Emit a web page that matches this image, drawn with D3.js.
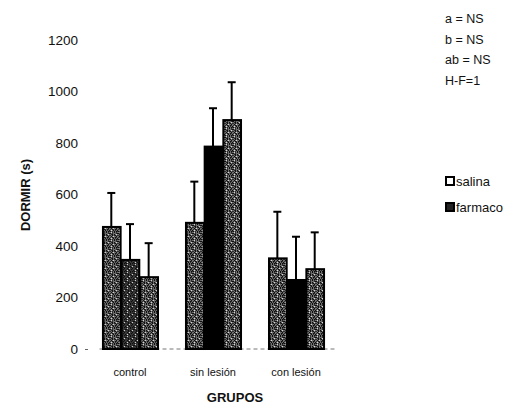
<!DOCTYPE html>
<html>
<head>
<meta charset="utf-8">
<script src="https://cdn.jsdelivr.net/npm/d3@7"></script>
<style>
  body { margin: 0; background: #fff; }
  svg text { font-family: "Liberation Sans", Arial, sans-serif; fill: #111; }
</style>
</head>
<body>
<div id="chart"></div>
<script>
//------------------------DATA------------------------//
const grupos = ["control", "sin lesión", "con lesión"];
const series = ["s1", "s2", "s3"];
const valS1 = [474, 490, 352];
const valS2 = [346, 786, 268];
const valS3 = [279, 889, 310];
const errS1 = [606, 650, 533];
const errS2 = [485, 935, 436];
const errS3 = [411, 1036, 453];
const yTicks = [0, 200, 400, 600, 800, 1000, 1200];
const notas = ["a = NS", "b = NS", "ab = NS", "H-F=1"];
const leyenda = ["salina", "farmaco"];

const valores = [valS1, valS2, valS3];
const errores = [errS1, errS2, errS3];

//------------------------SVG------------------------//
const width = 526, height = 407;
const svg = d3.select("#chart").append("svg")
  .attr("width", width)
  .attr("height", height);

// stipple texture, fixed tile
const tile = [
  "gwdgkgdg",
  "kgdgggdk",
  "gdkgkgwg",
  "dgkgdkgd",
  "gkgwggkg",
  "dgkdgkdg",
  "gwgkgdgk",
  "kgdgkgkd"
];
const tileCol = { g: "#5e5e5e", w: "#d8d8d8", d: "#2e2e2e", k: "#0c0c0c" };
function makePattern(id, base) {
  const p = svg.append("defs").append("pattern")
    .attr("id", id)
    .attr("width", 8).attr("height", 8)
    .attr("patternUnits", "userSpaceOnUse");
  p.append("rect").attr("width", 8).attr("height", 8).attr("fill", base);
  tile.forEach(function(row, j) {
    row.split("").forEach(function(c, i) {
      if (c === "g") return;
      p.append("rect").attr("x", i).attr("y", j).attr("width", 1).attr("height", 1)
        .attr("fill", tileCol[c]);
    });
  });
}
makePattern("stip", "#6e6e6e");
makePattern("stipDark", "#3a3a3a");

// fill per series / group
function fillFor(s, g) {
  if (s === 1) return g === 0 ? "url(#stipDark)" : "#000";
  return "url(#stip)";
}

//------------------------SCALES------------------------//
const y = d3.scaleLinear().domain([0, 1200]).range([349, 40]);
const x0 = d3.scaleBand().domain(grupos).range([89.5, 336.5])
  .paddingInner(0.325).paddingOuter(0.15);
const x1 = d3.scaleBand().domain(series).range([0, x0.bandwidth()]);

//------------------------AXES------------------------//
const yAxis = svg.append("g")
  .attr("transform", "translate(88,0)")
  .call(d3.axisLeft(y).tickValues(yTicks).tickSize(3).tickPadding(7).tickFormat(d3.format("d")));
yAxis.select(".domain").remove();
yAxis.selectAll("line").attr("stroke", function(d) { return d === 0 ? "#666" : "none"; });
yAxis.selectAll("text").style("font-size", "13.5px").attr("fill", "#111");

// baseline (faint, dashed)
svg.append("line")
  .attr("x1", x0.range()[0] + 10).attr("x2", x0.range()[1])
  .attr("y1", y(0)).attr("y2", y(0))
  .attr("stroke", "#777").attr("stroke-width", 1)
  .attr("stroke-dasharray", "4,3");

const xAxis = svg.append("g")
  .attr("transform", "translate(0," + y(0) + ")")
  .call(d3.axisBottom(x0).tickSize(0).tickPadding(19));
xAxis.select(".domain").remove();
xAxis.selectAll("text").style("font-size", "11px").attr("fill", "#111");

svg.append("text")
  .attr("transform", "translate(30,195) rotate(-90)")
  .attr("text-anchor", "middle")
  .style("font-size", "13px").style("font-weight", "bold")
  .text("DORMIR (s)");

svg.append("text")
  .attr("x", 235).attr("y", 402)
  .attr("text-anchor", "middle")
  .style("font-size", "13px").style("font-weight", "bold")
  .text("GRUPOS");

//------------------------BARS------------------------//
const groups = svg.selectAll(".grupo")
  .data(grupos)
  .enter().append("g")
  .attr("class", "grupo")
  .attr("transform", function(d) { return "translate(" + x0(d) + ",0)"; });

series.forEach(function(s, si) {
  // error bars first (behind bars)
  groups.append("line")
    .attr("x1", x1(s) + x1.bandwidth() / 2)
    .attr("x2", x1(s) + x1.bandwidth() / 2)
    .attr("y1", function(d, gi) { return y(valores[si][gi]); })
    .attr("y2", function(d, gi) { return y(errores[si][gi]); })
    .attr("stroke", "#000").attr("stroke-width", 2);
  groups.append("line")
    .attr("x1", x1(s) + x1.bandwidth() / 2 - 4)
    .attr("x2", x1(s) + x1.bandwidth() / 2 + 4)
    .attr("y1", function(d, gi) { return y(errores[si][gi]); })
    .attr("y2", function(d, gi) { return y(errores[si][gi]); })
    .attr("stroke", "#000").attr("stroke-width", 2);
});

series.forEach(function(s, si) {
  groups.append("rect")
    .attr("x", x1(s) + 1)
    .attr("width", x1.bandwidth() - 1)
    .attr("y", function(d, gi) { return y(valores[si][gi]); })
    .attr("height", function(d, gi) { return y(0) - y(valores[si][gi]); })
    .attr("fill", function(d, gi) { return fillFor(si, gi); })
    .attr("stroke", "#000").attr("stroke-width", 2);
});

//------------------------NOTES & LEGEND------------------------//
svg.selectAll(".nota")
  .data(notas)
  .enter().append("text")
  .attr("class", "nota")
  .attr("x", 445)
  .attr("y", function(d, i) { return 23 + i * 20.5; })
  .style("font-size", "12.5px")
  .text(function(d) { return d; });

const leg = svg.selectAll(".leg")
  .data(leyenda)
  .enter().append("g")
  .attr("class", "leg")
  .attr("transform", function(d, i) { return "translate(445," + (176 + i * 26) + ")"; });
leg.append("rect")
  .attr("x", 1).attr("y", 1).attr("width", 8).attr("height", 8)
  .attr("fill", function(d, i) { return i === 0 ? "#fff" : "#222"; })
  .attr("stroke", "#000").attr("stroke-width", 2);
leg.append("text")
  .attr("x", 11).attr("y", 10)
  .style("font-size", "13px")
  .text(function(d) { return d; });
</script>
</body>
</html>
